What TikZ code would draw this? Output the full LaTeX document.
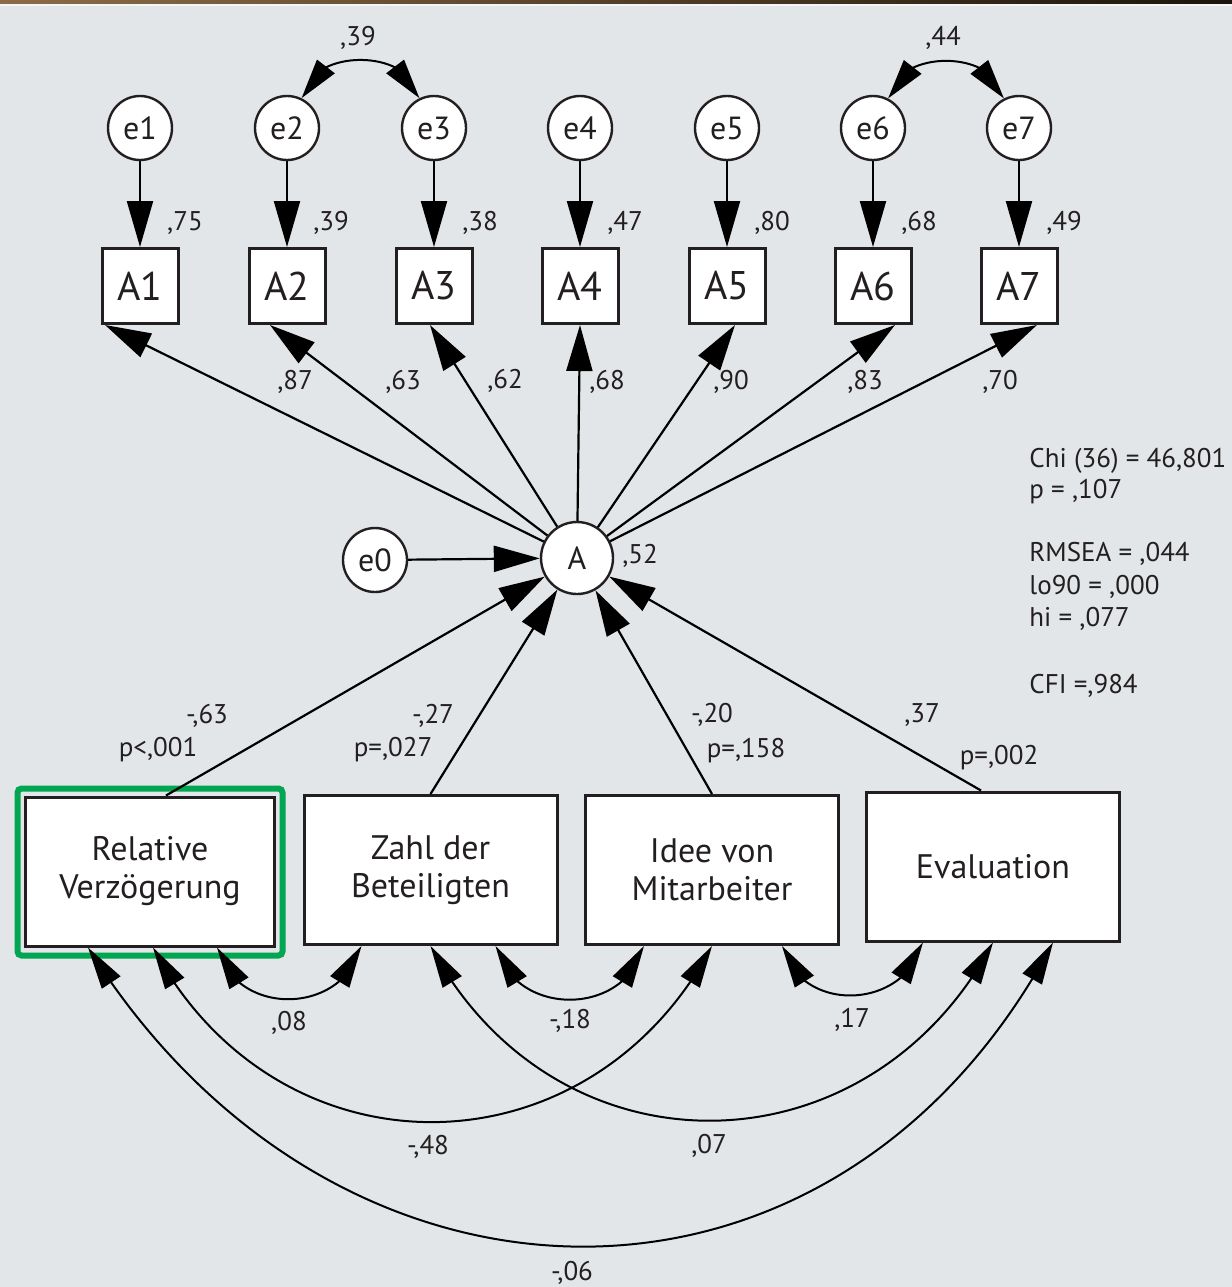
\documentclass[tikz,border=0pt]{standalone}
\usepackage{fontspec}
\setmainfont{PT Sans}
\usetikzlibrary{arrows.meta,calc,bending}
\definecolor{bg}{RGB}{227,230,232}
\definecolor{ink}{RGB}{35,31,32}
\definecolor{grn}{RGB}{0,166,81}
\definecolor{brA}{RGB}{140,108,72}
\definecolor{brB}{RGB}{28,20,10}
\begin{document}
\begin{tikzpicture}[x=0.5pt,y=-0.5pt,
 lat/.style={circle,draw=ink,fill=white,line width=1.2pt,minimum size=32pt,inner sep=0pt,text=ink,font=\fontsize{16}{18}\selectfont},
 obs/.style={rectangle,draw=ink,fill=white,line width=1.5pt,minimum width=38pt,minimum height=37.5pt,inner sep=0pt,text=ink,font=\fontsize{20}{22}\selectfont},
 pred/.style={rectangle,draw=ink,fill=white,line width=1.5pt,minimum width=126.5pt,minimum height=74.5pt,inner sep=0pt,align=center,text=ink,font=\fontsize{17}{19}\selectfont},
 num/.style={font=\fontsize{13.5}{15}\selectfont,text=ink,inner sep=0pt},
 reg/.style={draw=black,line width=1.1pt,-{Triangle[length=23pt,width=13pt]}},
 cov/.style={draw=black,line width=1pt,{Triangle[length=21pt,width=11pt,flex]}-{Triangle[length=21pt,width=11pt,flex]}},
 covtop/.style={draw=black,line width=1pt,{Triangle[length=20pt,width=11pt,flex]}-{Triangle[length=20pt,width=11pt,flex]}},
]
\useasboundingbox (0,0) rectangle (1232,1287);
\fill[bg] (0,0) rectangle (1232,1287);
\shade[left color=brA,right color=brB] (0,0) rectangle (1232,4);
\fill[white!60!bg] (0,4) rectangle (1232,6);

% latent error nodes and indicators
\foreach \i/\x in {1/140,2/287,3/434,4/580,5/727,6/873,7/1019}{
  \node[lat] (e\i) at (\x,128) {e\i};
  \node[obs] (A\i) at (\x,286) {A\i};
}
\node[lat,minimum size=36pt] (A) at (577,558) {A};
\node[lat] (e0) at (375,560) {e0};

\node[pred,minimum width=124.5pt] (RV) at (150,871.5) {Relative\\Verzögerung};
\node[pred] (ZB) at (430.5,870) {Zahl der\\Beteiligten};
\node[pred] (IM) at (712,870) {Idee von\\Mitarbeiter};
\node[pred] (EV) at (993,866.5) {Evaluation};
\draw[grn,line width=3pt,rounded corners=2pt] ($(RV.south west)+(-6.5,8)$) rectangle ($(RV.north east)+(6.5,-7)$);

% paths
\foreach \i in {1,...,7}{\draw[reg] (e\i) -- (A\i);}
\foreach \i/\dx in {1/-35,2/-17,3/-4,4/0,5/8,6/22,7/18}{\draw[reg] (A) -- ($(A\i.south)+(\dx,0)$);}
\draw[reg] (e0) -- (A);
\draw[reg] ($(RV.north)+(16,0)$) -- (A);
\draw[reg] (ZB.north) -- (A);
\draw[reg] (IM.north) -- (A);
\draw[reg] ($(EV.north)+(-12,0)$) -- (A);

% covariances
\draw[covtop] (e2.64) to[out=82,in=98,looseness=1.12] (e3.116);
\draw[covtop] (e6.63) to[out=82,in=98,looseness=1.12] (e7.117);
\draw[cov] ($(RV.south)+(67,0)$) to[out=-75,in=-105,looseness=1.28] ($(ZB.south)+(-69,0)$);
\draw[cov] ($(ZB.south)+(65,0)$) to[out=-75,in=-105,looseness=1.28] ($(IM.south)+(-68,0)$);
\draw[cov] ($(IM.south)+(70,0)$) to[out=-75,in=-105,looseness=1.28] ($(EV.south)+(-70,0)$);
\draw[cov] ($(RV.south)+(3,0)$) to[out=-62,in=-118,looseness=1.21] (IM.south);
\draw[cov] (ZB.south) to[out=-62,in=-118,looseness=1.21] (EV.south);
\draw[cov] ($(RV.south)+(-62,0)$) to[out=-58,in=-118,looseness=1.23] ($(EV.south)+(60,0)$);

% labels
\node[num] (r1) at (185,223) {,75};
\node[num] (r2) at (331,223) {,39};
\node[num] (r3) at (480,223) {,38};
\node[num] (r4) at (625,223) {,47};
\node[num] (r5) at (772,223) {,80};
\node[num] (r6) at (919,223) {,68};
\node[num] (r7) at (1064,223) {,49};
\node[num] (c23) at (358,38) {,39};
\node[num] (c67) at (943,38) {,44};
\node[num] (l1) at (295,382) {,87};
\node[num] (l2) at (403,382) {,63};
\node[num] (l3) at (505,381) {,62};
\node[num] (l4) at (607,382) {,68};
\node[num] (l5) at (731,382) {,90};
\node[num] (l6) at (865,382) {,83};
\node[num] (l7) at (1000,382) {,70};
\node[num] (rA) at (640,556) {,52};
\node[num] (b1) at (207,716) {-,63};
\node[num] (p1) at (158,750) {p<,001};
\node[num] (b2) at (433,716) {-,27};
\node[num] (p2) at (393,750) {p=,027};
\node[num] (b3) at (712,715) {-,20};
\node[num] (p3) at (746,751) {p=,158};
\node[num] (b4) at (922,715) {,37};
\node[num] (p4) at (999,758) {p=,002};
\node[num] (k1) at (289,1023) {,08};
\node[num] (k2) at (570,1021) {-,18};
\node[num] (k3) at (852,1020) {,17};
\node[num] (k4) at (428,1147) {-,48};
\node[num] (k5) at (709,1146) {,07};
\node[num] (k6) at (572,1273) {-,06};

% fit statistics
\node[num,anchor=base west] (s1) at (1029,467) {Chi (36) = 46,801};
\node[num,anchor=base west] (s2) at (1029,498) {p = ,107};
\node[num,anchor=base west] (s3) at (1029,561) {RMSEA = ,044};
\node[num,anchor=base west] (s4) at (1029,594) {lo90 = ,000};
\node[num,anchor=base west] (s5) at (1029,626) {hi = ,077};
\node[num,anchor=base west] (s6) at (1029,693) {CFI =,984};
\end{tikzpicture}
\end{document}
